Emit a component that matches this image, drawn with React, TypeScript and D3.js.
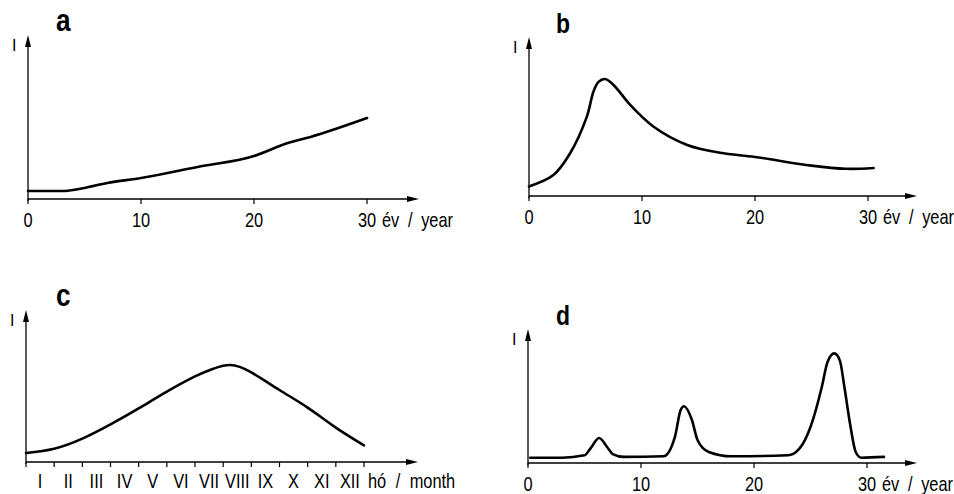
import React from 'react';
import * as d3 from 'd3';

// intensity readings (arbitrary units, 0-10)
const yearsA = [0, 3, 5, 7, 10, 15, 20, 23, 25, 30];
const valuesA = [0.5, 0.5, 0.69, 1.0, 1.31, 2.0, 2.69, 3.5, 3.88, 5.06];

const yearsB = [0, 2.16, 3.64, 5.12, 5.7, 6.15, 6.74, 7.48, 8.96, 11.03, 14, 16.9, 20, 25, 28, 30.5];
const valuesB = [0.6, 1.31, 2.67, 4.96, 6.52, 7.13, 7.31, 6.94, 5.69, 4.33, 3.19, 2.7, 2.44, 1.9, 1.7, 1.75];

const monthsC = [0, 1, 2, 3, 4, 5, 6, 6.6, 7.25, 8, 9, 10, 11, 12];
const valuesC = [0.56, 0.83, 1.46, 2.35, 3.35, 4.4, 5.35, 5.8, 6.06, 5.6, 4.5, 3.4, 2.15, 1.04];

const yearsD = [0.2, 3, 5, 5.5, 6.3, 7, 7.5, 8.5, 12, 13, 13.5, 13.8, 14.5, 15, 16, 18, 23, 24, 25, 26, 26.5, 27.1, 27.6, 28, 28.5, 29, 29.5, 31.5];
const valuesD = [0.33, 0.33, 0.48, 0.88, 1.56, 1.0, 0.56, 0.38, 0.42, 1.63, 3.3, 3.55, 2.7, 1.44, 0.69, 0.42, 0.48, 0.88, 2.25, 4.75, 6.3, 6.85, 6.4, 4.75, 2.45, 0.69, 0.33, 0.38];

const yearTicks = [0, 10, 20, 30];
const monthLabels = ['I', 'II', 'III', 'IV', 'V', 'VI', 'VII', 'VIII', 'IX', 'X', 'XI', 'XII'];

const font = '"Liberation Sans", Arial, sans-serif';

// narrow text: the original uses a condensed face, so squeeze horizontally
function Txt({ x, y, children, size = 20, anchor = 'middle', bold = false, ws = 0 }:
  { x: number; y: number; children: React.ReactNode; size?: number; anchor?: string; bold?: boolean; ws?: number }) {
  return (
    <text transform={`translate(${x},${y}) scale(0.82,1)`} fontFamily={font} fontSize={size}
      fontWeight={bold ? 'bold' : 'normal'} textAnchor={anchor} wordSpacing={ws}>{children}</text>
  );
}

type PanelProps = {
  label: string;
  labelSize: number;
  labelX: number;
  ox: number;
  oy: number;
  top: number;
  arrowX: number;
  xs: number[];
  ys: number[];
  curve: d3.CurveFactory;
  months?: boolean;
};

function Panel({ label, labelSize, labelX, ox, oy, top, arrowX, xs, ys, curve, months }: PanelProps) {
  const x = d3.scaleLinear()
    .domain(months ? [0, 12] : [0, 30])
    .range(months ? [ox, ox + 338] : [ox, ox + 339]);
  const y = d3.scaleLinear().domain([0, 10]).range([oy, oy - 160]);

  const line = d3.line<number>()
    .x((d, i) => x(xs[i]))
    .y(d => y(d))
    .curve(curve);

  return (
    <g>
      <Txt x={labelX} y={top - 4} size={labelSize} anchor="start" bold>{label}</Txt>
      <text x={ox - 16} y={top + 16} fontFamily={font} fontSize={16}>I</text>

      {/* y axis */}
      <line x1={ox} y1={oy + 2} x2={ox} y2={top + 8} stroke="#000" strokeWidth={1.3} />
      <path d={`M${ox},${top} L${ox - 3},${top + 12} L${ox + 3},${top + 12} Z`} fill="#000" />

      {/* x axis */}
      <line x1={ox} y1={oy} x2={arrowX - 8} y2={oy} stroke="#000" strokeWidth={1.5} />
      <path d={`M${arrowX},${oy} L${arrowX - 12},${oy - 3} L${arrowX - 12},${oy + 3} Z`} fill="#000" />

      {months ? (
        <g>
          {d3.range(13).map(i => (
            <line key={i} x1={x(i)} y1={oy} x2={x(i)} y2={oy + 5} stroke="#000" strokeWidth={1.2} />
          ))}
          {monthLabels.map((m, i) => (
            <Txt key={m} x={x(i + 0.5)} y={oy + 26}>{m}</Txt>
          ))}
          <Txt x={x(12) + 4} y={oy + 26} anchor="start" ws={6}>hó / month</Txt>
        </g>
      ) : (
        <g>
          {yearTicks.map(t => (
            <line key={t} x1={x(t)} y1={oy} x2={x(t)} y2={oy + 5} stroke="#000" strokeWidth={1.2} />
          ))}
          {yearTicks.map(t => (
            <Txt key={t} x={x(t)} y={oy + 28}>{t}</Txt>
          ))}
          <Txt x={x(30) + 15} y={oy + 28} anchor="start" ws={5}>év / year</Txt>
        </g>
      )}

      <path d={line(ys) || ''} fill="none" stroke="#000" strokeWidth={2.6} strokeLinejoin="round" strokeLinecap="round" />
    </g>
  );
}

export default function App() {
  return (
    <svg width={954} height={494} style={{ position: 'absolute', left: 0, top: 0, background: '#fff' }}>
      <rect width={954} height={494} fill="#fff" />
      <Panel label="a" labelSize={32} labelX={56} ox={28} oy={199} top={35} arrowX={419} xs={yearsA} ys={valuesA} curve={d3.curveMonotoneX} />
      <Panel label="b" labelSize={28} labelX={556} ox={529} oy={196} top={37} arrowX={917} xs={yearsB} ys={valuesB} curve={d3.curveCatmullRom.alpha(0.5)} />
      <Panel label="c" labelSize={32} labelX={56} ox={26} oy={462} top={310} arrowX={418} xs={monthsC} ys={valuesC} curve={d3.curveNatural} months />
      <Panel label="d" labelSize={28} labelX={556} ox={528} oy={463} top={329} arrowX={917} xs={yearsD} ys={valuesD} curve={d3.curveMonotoneX} />
    </svg>
  );
}
